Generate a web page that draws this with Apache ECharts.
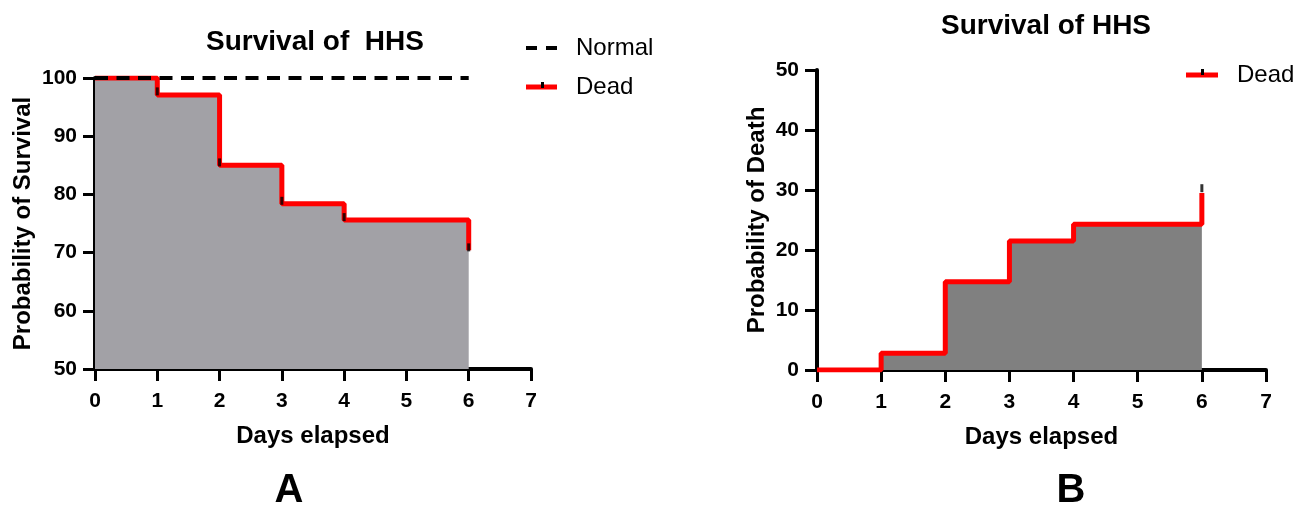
<!DOCTYPE html>
<html>
<head>
<meta charset="utf-8">
<script src="https://cdn.jsdelivr.net/npm/echarts@6/dist/echarts.min.js"></script>
<style>
  html, body { margin: 0; padding: 0; background: #fff; }
  #main { width: 1305px; height: 506px; }
</style>
</head>
<body>
<div id="main"></div>
<script>
// 数据
var days = [0, 1, 2, 3, 4, 6];
var survivalDead = [100, 97.1, 85.0, 78.4, 75.6, 70.4];
var normalDays = [0, 6];
var normalValues = [100, 100];
var survivalCensorDays = [1, 2, 3, 4, 6];
var survivalCensor = [97.7, 85.5, 78.9, 76.1, 70.9];

var deathDead = [0, 2.8, 14.7, 21.5, 24.3, 29.5];
var deathCensorDays = [6];
var deathCensor = [30.3];

var xTicks = [0, 1, 2, 3, 4, 5, 6, 7];

function pairs(xs, ys) {
  return xs.map(function (x, i) { return [x, ys[i]]; });
}

var font = 'Liberation Sans, Arial, sans-serif';

function xAxisCfg(grid) {
  return {
    type: 'value', gridIndex: grid,
    min: xTicks[0], max: xTicks[xTicks.length - 1], interval: 1,
    name: 'Days elapsed', nameLocation: 'middle', nameGap: 55,
    nameTextStyle: { fontFamily: font, fontWeight: 'bold', fontSize: 24, color: '#000' },
    axisLine: { show: true, lineStyle: { color: '#000', width: 4 } },
    axisTick: { show: true, inside: false, length: 12, lineStyle: { color: '#000', width: 3 } },
    axisLabel: { inside: false, fontFamily: font, fontWeight: 'bold', fontSize: 21, color: '#000', margin: 22 },
    splitLine: { show: false }
  };
}

function yAxisCfg(grid, name, min, max, gap) {
  return {
    type: 'value', gridIndex: grid,
    min: min, max: max, interval: 10,
    name: name, nameLocation: 'middle', nameGap: gap,
    nameTextStyle: { fontFamily: font, fontWeight: 'bold', fontSize: 24, color: '#000' },
    axisLine: { show: true, lineStyle: { color: '#000', width: 4 } },
    axisTick: { show: true, inside: false, length: 12, lineStyle: { color: '#000', width: 3 } },
    axisLabel: { inside: false, fontFamily: font, fontWeight: 'bold', fontSize: 21, color: '#000', margin: 18 },
    splitLine: { show: false }
  };
}

var chart = echarts.init(document.getElementById('main'));

var titleStyle = { fontFamily: font, fontWeight: 'bold', fontSize: 28, color: '#000' };
var panelStyle = { fontFamily: font, fontWeight: 'bold', fontSize: 40, color: '#000' };
var legendText = { fontFamily: font, fontSize: 24, color: '#000', padding: [0, 0, 0, 14] };

var option = {
  backgroundColor: '#fff',
  animation: false,
  title: [
    { text: 'Survival of  HHS', left: 310, top: 23, textAlign: 'center', textStyle: titleStyle },
    { text: 'Survival of HHS', left: 1041, top: 7, textAlign: 'center', textStyle: titleStyle },
    { text: 'A', left: 284, top: 466, textAlign: 'center', textStyle: panelStyle },
    { text: 'B', left: 1066, top: 466, textAlign: 'center', textStyle: panelStyle }
  ],
  legend: [
    {
      data: [
        { name: 'Normal', icon: 'path://M0,0H11V4H0Z M20,0H31V4H20Z', itemStyle: { color: '#000' } },
        { name: 'Dead', icon: 'path://M0,0H31V5H0Z', itemStyle: { color: '#ff0000' } }
      ],
      orient: 'vertical', left: 526, top: 36, padding: 0,
      itemWidth: 31, itemHeight: 5, itemGap: 15, textStyle: legendText
    },
    {
      data: [{ name: 'Dead', icon: 'path://M0,0H32V5H0Z', itemStyle: { color: '#ff0000' } }],
      orient: 'vertical', left: 1186, top: 63, padding: 0,
      itemWidth: 32, itemHeight: 5, textStyle: legendText
    }
  ],
  // 图例里的小黑刻度
  graphic: [
    { type: 'rect', left: 541, top: 82, shape: { width: 3, height: 6 }, style: { fill: '#000' }, z: 100 },
    { type: 'rect', left: 1201, top: 69, shape: { width: 3, height: 6 }, style: { fill: '#000' }, z: 100 }
  ],
  grid: [
    { left: 95, top: 78, width: 436, height: 291 },
    { left: 817, top: 70, width: 449, height: 300 }
  ],
  xAxis: [xAxisCfg(0), xAxisCfg(1)],
  yAxis: [
    yAxisCfg(0, 'Probability of Survival', 50, 100, 60),
    yAxisCfg(1, 'Probability of Death', 0, 50, 48)
  ],
  series: [
    // A: 生存曲线
    {
      name: 'Dead', type: 'line', xAxisIndex: 0, yAxisIndex: 0,
      step: 'end', data: pairs(days, survivalDead),
      showSymbol: false, symbol: 'none',
      lineStyle: { color: '#ff0000', width: 5 },
      areaStyle: { color: '#a2a1a6', opacity: 1, origin: 'start' },
      z: 2
    },
    {
      name: 'censorA', type: 'scatter', xAxisIndex: 0, yAxisIndex: 0,
      data: pairs(survivalCensorDays, survivalCensor),
      symbol: 'rect', symbolSize: [3, 8], itemStyle: { color: '#000' }, z: 4
    },
    {
      name: 'Normal', type: 'line', xAxisIndex: 0, yAxisIndex: 0,
      data: pairs(normalDays, normalValues),
      showSymbol: false, symbol: 'none',
      lineStyle: { color: '#000', width: 4, type: [13, 8.5] },
      z: 5
    },
    // B: 死亡曲线
    {
      name: 'Dead', type: 'line', xAxisIndex: 1, yAxisIndex: 1,
      step: 'end', data: pairs(days, deathDead),
      showSymbol: false, symbol: 'none',
      lineStyle: { color: '#ff0000', width: 5 },
      areaStyle: { color: '#808080', opacity: 1, origin: 'start' },
      z: 3
    },
    {
      name: 'censorB', type: 'scatter', xAxisIndex: 1, yAxisIndex: 1,
      data: pairs(deathCensorDays, deathCensor),
      symbol: 'rect', symbolSize: [3, 8], itemStyle: { color: '#000' }, z: 2
    }
  ]
};

chart.setOption(option);
</script>
</body>
</html>
